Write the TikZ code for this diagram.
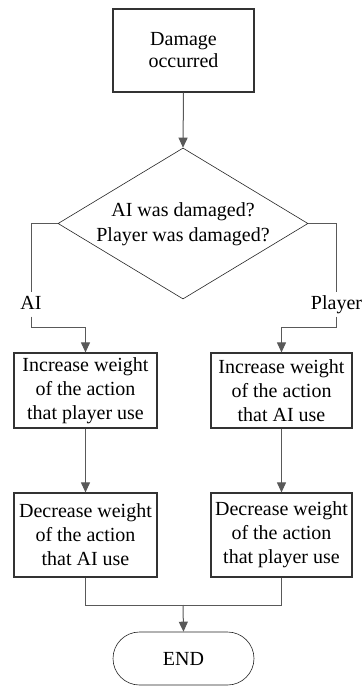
\documentclass[tikz,border=0pt]{standalone}
\usepackage{fontspec}
\setmainfont{Liberation Serif}
\usetikzlibrary{arrows.meta,shapes.geometric}
\begin{document}
\begin{tikzpicture}[x=1pt,y=-1pt,
  box/.style={draw=black!80, line width=1.2pt, fill=white, rectangle, inner xsep=1pt, inner ysep=2pt,
    align=center, font=\fontsize{20}{24}\selectfont},
  dia/.style={draw=black!85, line width=0.6pt, diamond, inner sep=0pt, minimum width=250pt, minimum height=151pt},
  txt/.style={align=center, font=\fontsize{20}{25}\selectfont, inner sep=0pt},
  lbl/.style={font=\fontsize{20}{24}\selectfont, inner xsep=1pt, inner ysep=3pt, text height=14pt, text depth=4.5pt},
  endbox/.style={draw=black!85, line width=0.6pt, rectangle, rounded corners=26.5pt, minimum width=141pt, minimum height=53pt,
    font=\fontsize{20}{24}\selectfont},
  conn/.style={draw=black!65, line width=1pt},
  arr/.style={-{Triangle[length=10pt,width=9pt]}}
]
\useasboundingbox (0,0) rectangle (363,686);
\fill[white] (0,0) rectangle (363,686);

\node[box, minimum width=141pt, minimum height=83pt, font=\fontsize{20}{22}\selectfont] (start) at (183.5,50.5) {Damage\\occurred};
\node[dia] (dia) at (183,223.5) {};
\node[txt] (q) at (183,224) {AI was damaged?\\Player was damaged?};

\node[lbl, anchor=base] (ail) at (31,309) {AI};
\node[lbl, anchor=base] (pl) at (336.5,309) {Player};
\coordinate (ct1) at (31,327);
\coordinate (ct2) at (336.5,327);

\node[box, minimum width=143pt, minimum height=75pt] (b1) at (85.5,390.5) {Increase weight\\of the action\\that player use};
\node[box, minimum width=141pt, minimum height=75pt] (b2) at (281.5,390.5) {Increase weight\\of the action\\that AI use};
\node[box, minimum width=143pt, minimum height=84pt] (b3) at (85.5,535) {Decrease weight\\of the action\\that AI use};
\node[box, minimum width=141pt, minimum height=84pt] (b4) at (281.5,535) {Decrease weight\\of the action\\that player use};

\coordinate (m) at (183,605);
\node[endbox] (end) at (183.5,658.5) {END};

\draw[conn, arr] (start.south) -- (dia.north);
\draw[conn] (dia.west) -| (ail.north);
\draw[conn] (dia.east) -| (pl.north);
\draw[conn, arr] (ail.south) -- (ct1) -| (b1.north);
\draw[conn, arr] (pl.south) -- (ct2) -| (b2.north);
\draw[conn, arr] (b1.south) -- (b3.north);
\draw[conn, arr] (b2.south) -- (b4.north);
\draw[conn] (b3.south) |- (m);
\draw[conn] (b4.south) |- (m);
\draw[conn, arr] (m) -- (end.north);
\end{tikzpicture}
\end{document}
